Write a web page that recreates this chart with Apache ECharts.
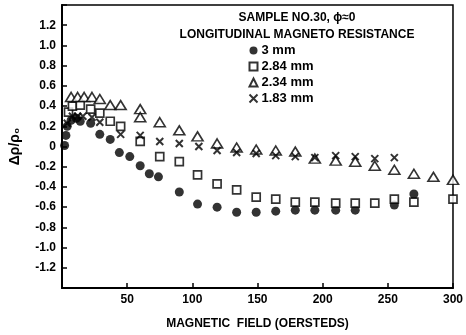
<!DOCTYPE html>
<html>
<head>
<meta charset="utf-8">
<script src="https://cdn.jsdelivr.net/npm/echarts@6/dist/echarts.min.js"></script>
<style>html,body{margin:0;padding:0;background:#fff}#c{width:466px;height:335px}</style>
</head>
<body>
<div id="c"></div>
<script>
// Magnetic field (oersteds) and Δρ/ρ0 for each sample thickness
const field3mm = [2, 3, 4, 7, 11, 14, 22, 29, 37, 44, 52, 60, 67, 74, 90, 104, 119, 134, 149, 164, 179, 194, 210, 225, 255, 270];
const val3mm   = [0.01, 0.11, 0.20, 0.26, 0.28, 0.25, 0.23, 0.12, 0.07, -0.06, -0.10, -0.19, -0.27, -0.30, -0.45, -0.57, -0.60, -0.65, -0.65, -0.64, -0.63, -0.63, -0.63, -0.63, -0.58, -0.47];

const field284 = [5, 8, 14, 22, 29, 37, 45, 60, 75, 90, 104, 119, 134, 149, 164, 179, 194, 210, 225, 240, 255, 270, 300];
const val284   = [0.34, 0.40, 0.41, 0.37, 0.33, 0.25, 0.20, 0.05, -0.10, -0.15, -0.28, -0.37, -0.43, -0.50, -0.52, -0.55, -0.55, -0.56, -0.56, -0.56, -0.52, -0.55, -0.52];

const field234 = [7, 12, 17, 23, 29, 37, 45, 60, 60, 75, 90, 104, 119, 134, 149, 164, 179, 194, 210, 225, 240, 255, 270, 285, 300];
const val234   = [0.49, 0.49, 0.49, 0.49, 0.47, 0.41, 0.41, 0.37, 0.29, 0.24, 0.16, 0.10, 0.03, -0.01, -0.03, -0.04, -0.05, -0.12, -0.14, -0.15, -0.19, -0.23, -0.27, -0.30, -0.33];

const field183 = [4, 8, 12, 16, 23, 29, 45, 60, 75, 90, 105, 119, 134, 149, 164, 179, 194, 210, 225, 240, 255];
const val183   = [0.23, 0.30, 0.30, 0.30, 0.29, 0.24, 0.12, 0.11, 0.05, 0.03, 0.00, -0.04, -0.06, -0.07, -0.09, -0.10, -0.11, -0.09, -0.10, -0.12, -0.11];

const seriesNames = ['3 mm', '2.84 mm', '2.34 mm', '1.83 mm'];
const xTicks = [0, 50, 100, 150, 200, 250, 300];

const pair = (xs, ys) => xs.map((x, i) => [x, ys[i]]);
const FONT = 'Liberation Sans';
const crossPath = 'path://M0,0L10,10M10,0L0,10';

const chart = echarts.init(document.getElementById('c'));
chart.setOption({
  animation: false,
  backgroundColor: '#fff',
  textStyle: { fontFamily: FONT, color: '#000', fontWeight: 'bold' },
  title: {
    text: 'SAMPLE NO.30, ϕ≈0\nLONGITUDINAL MAGNETO RESISTANCE',
    left: 292, top: 4, textAlign: 'center',
    textStyle: { fontFamily: FONT, fontSize: 12, fontWeight: 'bold', color: '#000', lineHeight: 17 }
  },
  legend: {
    orient: 'vertical', left: 242, top: 39,
    itemWidth: 8, itemHeight: 8, itemGap: 3,
    textStyle: { fontFamily: FONT, fontSize: 13, fontWeight: 'bold', color: '#000', padding: [0, 0, 0, -1] },
    data: seriesNames
  },
  grid: { left: 59, right: 9, top: 5, bottom: 47, show: true, borderColor: '#000', borderWidth: 1.5, backgroundColor: 'transparent' },
  xAxis: {
    type: 'value', min: 0, max: 300, interval: 50,
    name: 'MAGNETIC  FIELD (OERSTEDS)', nameLocation: 'middle', nameGap: 30,
    nameTextStyle: { fontFamily: FONT, fontSize: 12, fontWeight: 'bold', color: '#000' },
    axisLine: { show: true, onZero: false, lineStyle: { color: '#000', width: 2 } },
    axisTick: { show: true, inside: true, length: 5, lineStyle: { color: '#000', width: 1.5 } },
    axisLabel: { margin: 6, fontFamily: FONT, fontSize: 12, fontWeight: 'bold', color: '#000',
      formatter: v => (v === 0 ? '' : String(v)) },
    splitLine: { show: false }
  },
  yAxis: {
    type: 'value', min: -1.4, max: 1.4, interval: 0.2,
    name: 'Δρ/ρ₀', nameLocation: 'middle', nameGap: 40, nameRotate: 90,
    nameTextStyle: { fontFamily: FONT, fontSize: 14, fontWeight: 'bold', color: '#000' },
    axisLine: { show: true, onZero: false, lineStyle: { color: '#000', width: 2 } },
    axisTick: { show: true, inside: true, length: 5, lineStyle: { color: '#000', width: 1.5 } },
    axisLabel: { margin: 6, fontFamily: FONT, fontSize: 12, fontWeight: 'bold', color: '#000',
      formatter: v => {
        const r = Math.round(v * 10) / 10;
        if (Math.abs(r) > 1.3) return '';
        if (r === 0) return '0';
        return r.toFixed(1);
      } },
    splitLine: { show: false }
  },
  series: [
    { name: seriesNames[0], type: 'scatter', data: pair(field3mm, val3mm), symbol: 'circle', symbolSize: 9,
      itemStyle: { color: '#000' } },
    { name: seriesNames[1], type: 'scatter', data: pair(field284, val284), symbol: 'rect', symbolSize: 8,
      itemStyle: { color: '#fff', borderColor: '#000', borderWidth: 1.7 } },
    { name: seriesNames[2], type: 'scatter', data: pair(field234, val234), symbol: 'triangle', symbolSize: [11, 9],
      itemStyle: { color: '#fff', borderColor: '#000', borderWidth: 1.6 } },
    { name: seriesNames[3], type: 'scatter', data: pair(field183, val183), symbol: crossPath, symbolSize: 7,
      itemStyle: { color: 'none', borderColor: '#000', borderWidth: 2 } }
  ]
});
</script>
</body>
</html>
